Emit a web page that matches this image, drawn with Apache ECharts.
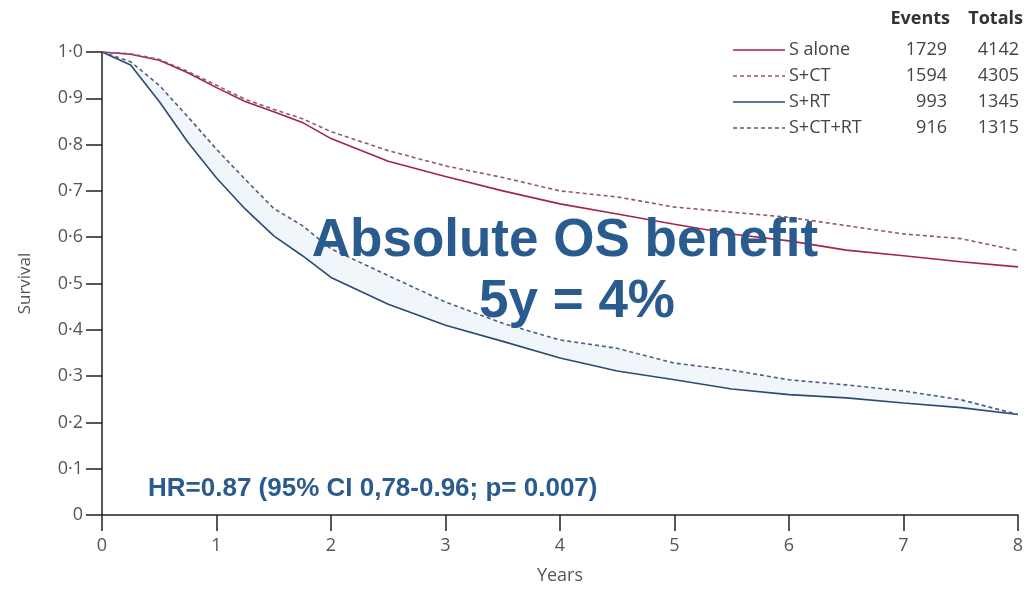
<!DOCTYPE html>
<html>
<head>
<meta charset="utf-8">
<script src="https://cdn.jsdelivr.net/npm/echarts@6/dist/echarts.min.js"></script>
<style>
  html, body { margin: 0; padding: 0; background: #ffffff; }
  #chart { width: 1028px; height: 590px; }
</style>
</head>
<body>
<div id="chart"></div>
<script>
// Follow-up times (years)
const years = [0, 0.25, 0.5, 0.75, 1, 1.25, 1.5, 1.75, 2, 2.5, 3, 3.5, 4, 4.5, 5, 5.5, 6, 6.5, 7, 7.5, 8];

// Kaplan-Meier overall survival by treatment group
const sAlone = [1.0, 0.995, 0.982, 0.955, 0.923, 0.893, 0.871, 0.848, 0.813, 0.764, 0.731, 0.700, 0.672, 0.650, 0.628, 0.607, 0.592, 0.572, 0.560, 0.547, 0.536];
const sCT    = [1.0, 0.996, 0.984, 0.958, 0.928, 0.898, 0.876, 0.856, 0.828, 0.787, 0.754, 0.729, 0.700, 0.687, 0.665, 0.654, 0.643, 0.625, 0.607, 0.597, 0.571];
const sRT    = [1.0, 0.972, 0.893, 0.805, 0.728, 0.661, 0.603, 0.560, 0.513, 0.455, 0.410, 0.375, 0.339, 0.311, 0.292, 0.272, 0.260, 0.253, 0.242, 0.232, 0.217];
const sCTRT  = [1.0, 0.979, 0.928, 0.860, 0.790, 0.725, 0.662, 0.625, 0.575, 0.517, 0.460, 0.414, 0.378, 0.360, 0.328, 0.313, 0.292, 0.281, 0.268, 0.249, 0.217];

// Group names and event counts
const groups = ['S alone', 'S+CT', 'S+RT', 'S+CT+RT'];
const events = [1729, 1594, 993, 916];
const totals = [4142, 4305, 1345, 1315];

// Axis ticks
const xTicks = { min: 0, max: 8, interval: 1 };
const yTicks = { min: 0, max: 1, interval: 0.1 };

const pairs = (vals) => years.map((t, i) => [t, vals[i]]);

const axisFont = "'Open Sans', sans-serif";
const axisGray = '#555555';
const noteBlue = '#2a5b8e';
const noteFont = "'Liberation Sans', Arial, sans-serif";

// Line look per group
const colors = ['#a3234b', '#8e5a6c', '#2c4a74', '#4e5f80'];
const dashed = [false, true, false, true];
const dashPattern = [4, 3];

const chart = echarts.init(document.getElementById('chart'), null, { renderer: 'canvas' });

const lineSeries = (idx, vals) => ({
  name: groups[idx],
  type: 'line',
  data: pairs(vals),
  symbol: 'none',
  smooth: false,
  z: 3,
  lineStyle: { color: colors[idx], width: 1.6, type: dashed[idx] ? dashPattern : 'solid' },
  itemStyle: { color: colors[idx] },
  emphasis: { disabled: true }
});

// Key: line samples, group names, events and totals columns
const rowY = [50, 76, 102, 128];
const keyItems = [
  { type: 'text', x: 950, y: 19, style: { text: 'Events', font: "bold 18px " + axisFont, fill: '#333', align: 'right', verticalAlign: 'middle' } },
  { type: 'text', x: 1023, y: 19, style: { text: 'Totals', font: "bold 18px " + axisFont, fill: '#333', align: 'right', verticalAlign: 'middle' } }
];
for (let i = 0; i < groups.length; i++) {
  keyItems.push({ type: 'line', shape: { x1: 733, y1: rowY[i], x2: 785, y2: rowY[i] },
    style: { stroke: colors[i], lineWidth: 1.6, lineDash: dashed[i] ? dashPattern : null } });
  keyItems.push({ type: 'text', x: 789, y: rowY[i], style: { text: groups[i], font: "18px " + axisFont, fill: '#444', align: 'left', verticalAlign: 'middle' } });
  keyItems.push({ type: 'text', x: 947, y: rowY[i], style: { text: String(events[i]), font: "18px " + axisFont, fill: '#444', align: 'right', verticalAlign: 'middle' } });
  keyItems.push({ type: 'text', x: 1019, y: rowY[i], style: { text: String(totals[i]), font: "18px " + axisFont, fill: '#444', align: 'right', verticalAlign: 'middle' } });
}

const option = {
  backgroundColor: '#ffffff',
  animation: false,
  grid: { left: 102, right: 10, top: 52, bottom: 72, containLabel: false },
  xAxis: {
    type: 'value',
    min: xTicks.min, max: xTicks.max, interval: xTicks.interval,
    name: 'Years',
    nameLocation: 'middle',
    nameGap: 52,
    nameTextStyle: { fontFamily: axisFont, fontSize: 18, color: axisGray },
    axisLine: { show: true, onZero: false, lineStyle: { color: '#222', width: 1.5 } },
    axisTick: { show: true, inside: false, length: 16, lineStyle: { color: '#222', width: 1.5 } },
    axisLabel: { margin: 22, fontFamily: axisFont, fontSize: 18, color: axisGray },
    splitLine: { show: false }
  },
  yAxis: {
    type: 'value',
    min: yTicks.min, max: yTicks.max, interval: yTicks.interval,
    name: 'Survival',
    nameLocation: 'middle',
    nameGap: 68,
    nameRotate: 90,
    nameTextStyle: { fontFamily: axisFont, fontSize: 17, color: axisGray },
    axisLine: { show: true, onZero: false, lineStyle: { color: '#222', width: 1.5 } },
    axisTick: { show: true, inside: false, length: 16, lineStyle: { color: '#222', width: 1.5 } },
    axisLabel: {
      margin: 19,
      fontFamily: axisFont, fontSize: 18, color: axisGray,
      formatter: (v) => v === 0 ? '0' : v.toFixed(1).replace('.', '\u00b7')
    },
    splitLine: { show: false }
  },
  series: [
    // light band between the two radiotherapy curves
    {
      type: 'custom',
      silent: true,
      z: 1,
      data: [[0, 1]],
      renderItem: function (params, api) {
        const upper = years.map((t, i) => api.coord([t, sCTRT[i]]));
        const lower = years.map((t, i) => api.coord([t, sRT[i]])).reverse();
        return {
          type: 'polygon',
          shape: { points: upper.concat(lower) },
          style: { fill: 'rgba(205, 222, 240, 0.28)', stroke: null }
        };
      }
    },
    lineSeries(0, sAlone),
    lineSeries(1, sCT),
    lineSeries(2, sRT),
    lineSeries(3, sCTRT)
  ],
  graphic: keyItems.concat([
    { type: 'text', x: 565, y: 241, z: 10,
      style: { text: 'Absolute OS benefit', font: "bold 53px " + noteFont, fill: noteBlue, align: 'center', verticalAlign: 'middle' } },
    { type: 'text', x: 577, y: 302, z: 10,
      style: { text: '5y = 4%', font: "bold 53px " + noteFont, fill: noteBlue, align: 'center', verticalAlign: 'middle' } },
    { type: 'text', x: 148, y: 489, z: 10,
      style: { text: 'HR=0.87 (95% CI 0,78-0.96; p= 0.007)', font: "bold 26px " + noteFont, fill: noteBlue, align: 'left', verticalAlign: 'middle' } }
  ])
};

chart.setOption(option);
</script>
</body>
</html>
